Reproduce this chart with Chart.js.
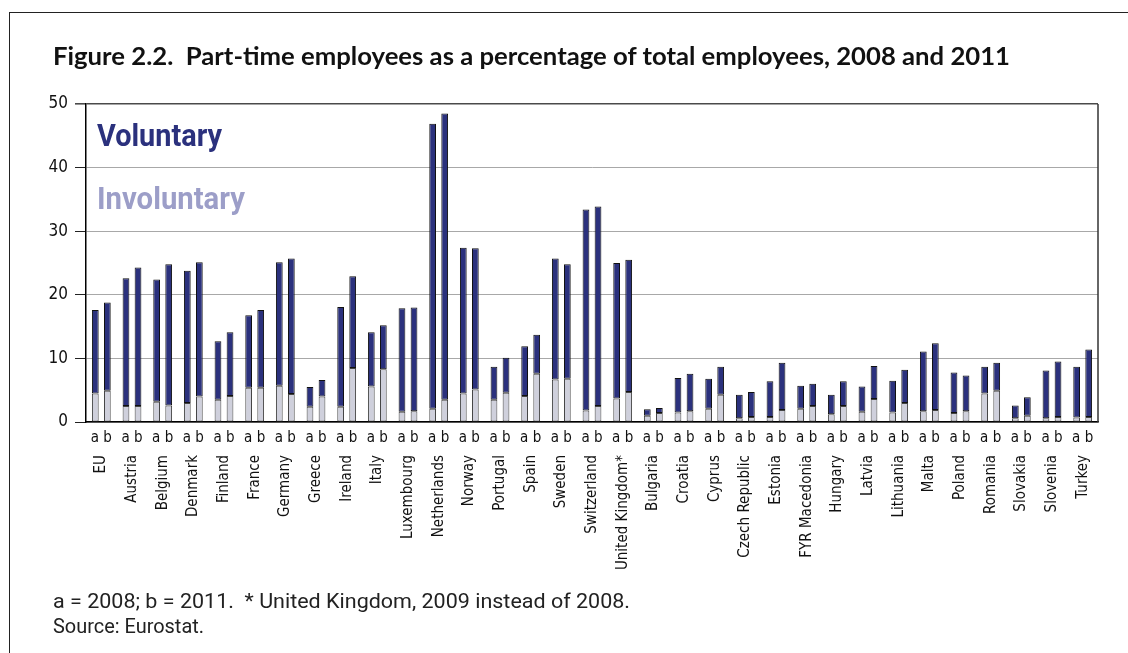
<!DOCTYPE html>
<html>
<head>
<meta charset="utf-8">
<script src="https://cdn.jsdelivr.net/npm/chart.js@4/dist/chart.umd.min.js"></script>
<style>
  html, body { margin: 0; padding: 0; background: #fff; }
  #wrap { position: relative; width: 1128px; height: 653px; overflow: hidden; }
  #frame { position: absolute; left: 9px; top: 12px; width: 1200px; height: 700px;
           border-left: 1.5px solid #222; border-top: 1.5px solid #222; }
  canvas { position: absolute; left: 0; top: 0; }
  .txt { position: absolute; white-space: pre; transform-origin: 0 0; color: #111; }
  #title { left: 53px; top: 44px; font: bold 24px 'Lato', 'Liberation Sans', sans-serif; line-height: 24px; }
  .note { left: 53px; font: 21px 'Roboto', 'Liberation Sans', sans-serif; line-height: 21px; color: #222; }
</style>
</head>
<body>
<div id="wrap">
  <div id="frame"></div>
  <canvas id="chart" width="1128" height="653"></canvas>
  <div class="txt" id="title" data-w="957">Figure 2.2.  Part-time employees as a percentage of total employees, 2008 and 2011</div>
  <div class="txt note" style="top:591px" data-w="577">a = 2008; b = 2011.  * United Kingdom, 2009 instead of 2008.</div>
  <div class="txt note" style="top:616px" data-w="151">Source: Eurostat.</div>
</div>
<script>
// Countries (a = 2008, b = 2011)
const countries = ['EU', 'Austria', 'Belgium', 'Denmark', 'Finland', 'France', 'Germany', 'Greece',
  'Ireland', 'Italy', 'Luxembourg', 'Netherlands', 'Norway', 'Portugal', 'Spain', 'Sweden',
  'Switzerland', 'United Kingdom*', 'Bulgaria', 'Croatia', 'Cyprus', 'Czech Republic', 'Estonia',
  'FYR Macedonia', 'Hungary', 'Latvia', 'Lithuania', 'Malta', 'Poland', 'Romania', 'Slovakia',
  'Slovenia', 'Turkey'];

// % of total employees, involuntary part-time
const involA = [4.5, 2.5, 3.2, 3.0, 3.5, 5.4, 5.7, 2.4, 2.4, 5.6, 1.6, 2.1, 4.5, 3.5, 4.1, 6.7,
  1.8, 3.7, 1.0, 1.5, 2.1, 0.6, 0.8, 2.1, 1.2, 1.6, 1.5, 1.7, 1.4, 4.5, 0.6, 0.6, 0.7];
const involB = [4.9, 2.5, 2.6, 4.0, 4.1, 5.4, 4.4, 4.0, 8.5, 8.3, 1.7, 3.5, 5.1, 4.6, 7.6, 6.8,
  2.5, 4.7, 1.4, 1.7, 4.3, 0.8, 1.9, 2.5, 2.5, 3.6, 3.0, 1.9, 1.7, 4.9, 1.0, 0.8, 0.8];

// % of total employees, voluntary part-time
const volA = [13.1, 20.1, 19.2, 20.8, 9.2, 11.4, 19.4, 3.1, 15.7, 8.5, 16.3, 44.8, 22.9, 5.2, 7.8, 19.0,
  31.6, 21.3, 1.0, 5.4, 4.7, 3.7, 5.6, 3.6, 3.1, 4.0, 5.0, 9.4, 6.4, 4.2, 2.0, 7.5, 8.0];
const volB = [13.9, 21.8, 22.2, 21.1, 10.0, 12.2, 21.3, 2.6, 14.4, 6.9, 16.3, 45.0, 22.2, 5.5, 6.1, 18.0,
  31.4, 20.8, 0.8, 5.9, 4.4, 3.9, 7.4, 3.5, 3.9, 5.2, 5.2, 10.5, 5.6, 4.4, 2.9, 8.7, 10.6];

const yTicks = [0, 10, 20, 30, 40, 50];

const navy = '#2b317d';
const lilac = '#cfd0dc';
const narrow = "'DejaVu Sans Condensed', 'Liberation Sans Narrow', 'Roboto Condensed', sans-serif";

const seriesStyle = (label, data, stack, fill, edge) => ({
  label, data, stack,
  backgroundColor: fill,
  borderColor: edge,
  borderWidth: 1,
  borderSkipped: false,
  categoryPercentage: 0.785,
  barPercentage: 0.56
});

// in-plot labels and right frame line
const extras = {
  id: 'extras',
  afterDraw(chart) {
    const { ctx, chartArea } = chart;
    ctx.save();
    ctx.strokeStyle = '#333';
    ctx.lineWidth = 1.5;
    ctx.beginPath();
    ctx.moveTo(chartArea.right, chartArea.top);
    ctx.lineTo(chartArea.right, chartArea.bottom);
    ctx.stroke();
    ctx.font = "bold 31px 'Roboto', 'Liberation Sans', sans-serif";
    ctx.textBaseline = 'alphabetic';
    ctx.fillStyle = navy;
    ctx.fillText('Voluntary', 97, 146, 125);
    ctx.fillStyle = '#9c9ec8';
    ctx.fillText('Involuntary', 97, 209, 148);
    ctx.restore();
  }
};

new Chart(document.getElementById('chart'), {
  type: 'bar',
  data: {
    labels: countries,
    datasets: [
      seriesStyle('Involuntary a', involA, 'a', lilac, '#444'),
      seriesStyle('Voluntary a', volA, 'a', navy, '#111'),
      seriesStyle('Involuntary b', involB, 'b', lilac, '#444'),
      seriesStyle('Voluntary b', volB, 'b', navy, '#111')
    ]
  },
  options: {
    responsive: false,
    animation: false,
    devicePixelRatio: 1,
    layout: { padding: { left: 46, top: 104, right: 30, bottom: 69 } },
    plugins: {
      legend: { display: false },
      tooltip: { enabled: false }
    },
    scales: {
      x: {
        stacked: true,
        grid: { display: true, drawOnChartArea: false, drawTicks: false },
        border: { display: true, color: '#000', width: 1.5 },
        ticks: {
          autoSkip: false, maxRotation: 0, padding: 7,
          color: '#111', font: { family: narrow, size: 15 },
          callback: () => 'a b'
        },
        afterFit: s => { s.height = 22; }
      },
      names: {
        type: 'category',
        position: 'bottom',
        offset: true,
        weight: 1,
        grid: { display: false },
        border: { display: false },
        ticks: {
          autoSkip: false, minRotation: 90, maxRotation: 90, padding: 3,
          color: '#111', font: { family: narrow, size: 15 },
          callback: (v, i) => countries[i]
        },
        afterFit: s => { s.height = 140; }
      },
      y: {
        stacked: true,
        min: 0,
        max: 50,
        afterBuildTicks: s => { s.ticks = yTicks.map(v => ({ value: v })); },
        grid: {
          color: c => c.tick && c.tick.value === 50 ? '#4a4a4a' : '#a8a8a8',
          lineWidth: c => c.tick && c.tick.value === 50 ? 1.6 : 1,
          tickLength: 11,
          tickColor: c => c.tick && c.tick.value === 50 ? '#4a4a4a' : '#222'
        },
        border: { display: true, color: '#000', width: 1.5 },
        ticks: { padding: 7, color: '#111', font: { family: narrow, size: 17 } },
        afterFit: s => { s.width = 40; }
      }
    }
  },
  plugins: [extras]
});

// squeeze HTML texts to the widths in the figure
document.querySelectorAll('.txt[data-w]').forEach(el => {
  const w = el.getBoundingClientRect().width;
  el.style.transform = 'scaleX(' + (Number(el.dataset.w) / w) + ')';
});
</script>
</body>
</html>
